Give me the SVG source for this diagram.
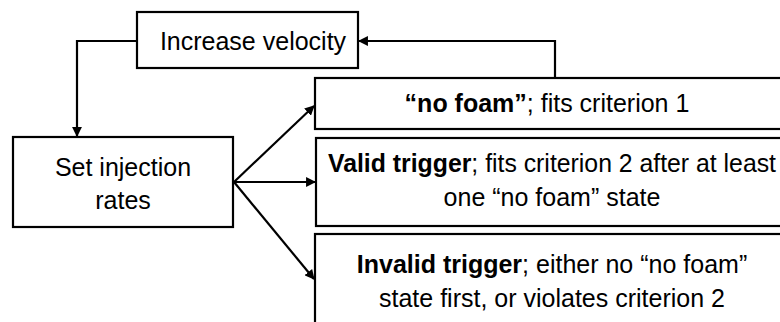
<svg xmlns="http://www.w3.org/2000/svg" width="780" height="322" viewBox="0 0 780 322">
<style>
.box{fill:#fff;stroke:#000;stroke-width:2.2}
.t{font-family:"Liberation Sans",Arial,sans-serif;font-size:25px;fill:#000;text-anchor:middle}
.b{font-weight:bold}
.c{fill:none;stroke:#000;stroke-width:2.2}
</style>
<defs>
<marker id="ah" viewBox="0 0 10 10" refX="9" refY="5" markerWidth="4.5" markerHeight="4.5" orient="auto" markerUnits="strokeWidth">
<path d="M0,0 L10,5 L0,10 z" fill="#000"/>
</marker>
</defs>
<rect width="780" height="322" fill="#fff"/>
<g id="increase">
<rect class="box" x="137" y="12" width="221" height="56"/>
<text class="t" x="253" y="50">Increase velocity</text>
</g>
<g id="set">
<rect class="box" x="13" y="137" width="220" height="90"/>
<text class="t" x="123" y="176">Set injection</text>
<text class="t" x="123" y="209">rates</text>
</g>
<g id="nofoam">
<rect class="box" x="315" y="78" width="480" height="51"/>
<text class="t" x="547" y="112"><tspan class="b">“no foam”</tspan>; fits criterion 1</text>
</g>
<g id="valid">
<rect class="box" x="316" y="138" width="480" height="88"/>
<text class="t" x="552" y="172" textLength="448" lengthAdjust="spacingAndGlyphs"><tspan class="b">Valid trigger</tspan>; fits criterion 2 after at least</text>
<text class="t" x="552" y="206">one “no foam” state</text>
</g>
<g id="invalid">
<rect class="box" x="315" y="234" width="480" height="100"/>
<text class="t" x="552" y="273"><tspan class="b">Invalid trigger</tspan>; either no “no foam”</text>
<text class="t" x="552" y="307">state first, or violates criterion 2</text>
</g>
<g id="connectors">
<path class="c" d="M555,78 V41 H359" marker-end="url(#ah)"/>
<path class="c" d="M137,41 H77 V136" marker-end="url(#ah)"/>
<path class="c" d="M234,182 L314,106" marker-end="url(#ah)"/>
<path class="c" d="M234,182 L315,182" marker-end="url(#ah)"/>
<path class="c" d="M234,182 L314,279" marker-end="url(#ah)"/>
</g>
</svg>
